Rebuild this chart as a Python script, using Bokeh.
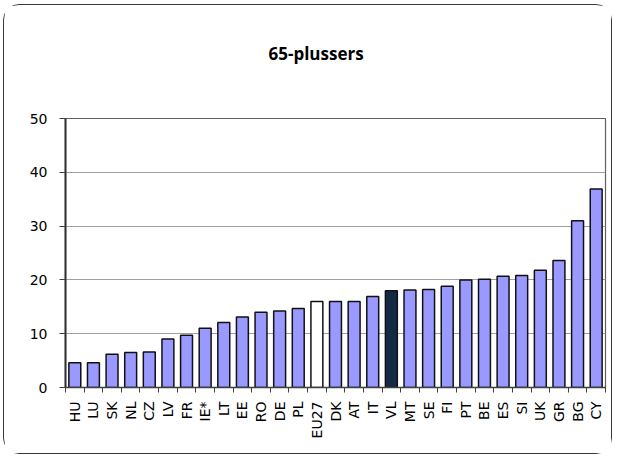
import math
from bokeh.plotting import figure
from bokeh.models import ColumnDataSource, FixedTicker, Range1d, Title
from bokeh.embed import file_html
from bokeh.resources import INLINE

categories = ["HU", "LU", "SK", "NL", "CZ", "LV", "FR", "IE*", "LT", "EE", "RO", "DE", "PL",
              "EU27", "DK", "AT", "IT", "VL", "MT", "SE", "FI", "PT", "BE", "ES", "SI", "UK",
              "GR", "BG", "CY"]
values = [4.6, 4.6, 6.2, 6.5, 6.6, 9.0, 9.7, 11.0, 12.1, 13.1, 14.0, 14.2, 14.7,
          16.0, 16.0, 16.0, 16.9, 18.0, 18.1, 18.2, 18.8, 20.0, 20.1, 20.7, 20.8, 21.8,
          23.6, 31.0, 36.9]
y_ticks = [0, 10, 20, 30, 40, 50]
title_text = "65-plussers"

base_color = "#9999FF"
special_colors = {"EU27": "#FFFFFF", "VL": "#132A45"}
colors = [special_colors.get(c, base_color) for c in categories]

n = len(categories)
centers = [i + 0.5 for i in range(n)]
boundaries = list(range(n + 1))

source = ColumnDataSource(dict(x=centers, top=values, color=colors, name=categories))

W, H = 609, 450
p = figure(width=W, height=H, output_backend="svg", toolbar_location=None,
           x_range=Range1d(0, n), y_range=Range1d(0, 50),
           min_border_left=61, min_border_right=8, min_border_top=113, min_border_bottom=68,
           styles={"margin-left": "3px", "margin-top": "4px",
                   "border": "1px solid #3a3a3a", "border-radius": "16px"})

p.vbar(x="x", top="top", width=0.64, bottom=0, fill_color="color",
       line_color="#111111", line_width=1.5, source=source)

# spacer between frame and title (pushes title upwards)
p.add_layout(Title(text=" ", text_font_size="1px", standoff=46), "above")

p.title.text = title_text
p.title.align = "left"
p.title.offset = 203
p.title.standoff = 10
p.title.text_font = "Open Sans"
p.title.text_font_style = "bold"
p.title.text_font_size = "17px"
p.title.text_color = "#000000"

# x axis
xa = p.xaxis[0]
xa.ticker = FixedTicker(ticks=centers, minor_ticks=boundaries)
xa.major_label_overrides = {c: name for c, name in zip(centers, categories)}
xa.major_label_orientation = math.pi / 2
xa.major_tick_line_color = None
xa.minor_tick_line_color = "#404040"
xa.minor_tick_out = 5
xa.minor_tick_in = 0
xa.axis_line_color = "#404040"
xa.axis_line_width = 1.5
xa.major_label_text_font = "DejaVu Sans"
xa.major_label_text_font_size = "14px"
xa.major_label_text_color = "#000000"
xa.major_label_standoff = 8

# y axis
ya = p.yaxis[0]
ya.ticker = FixedTicker(ticks=y_ticks, minor_ticks=[])
ya.major_tick_out = 6
ya.major_tick_in = 0
ya.major_tick_line_color = "#404040"
ya.axis_line_color = "#303030"
ya.axis_line_width = 2
ya.major_label_text_font = "DejaVu Sans"
ya.major_label_text_font_size = "14px"
ya.major_label_text_color = "#000000"
ya.major_label_standoff = 12

p.xgrid.grid_line_color = None
p.ygrid.grid_line_color = "#a0a0a0"
p.ygrid.grid_line_width = 1.2
p.ygrid.ticker = FixedTicker(ticks=y_ticks)

p.outline_line_color = "#606060"
p.outline_line_width = 1.2
p.background_fill_color = "#FFFFFF"
p.border_fill_color = "#FFFFFF"

open("out.html", "w").write(file_html(p, INLINE))
